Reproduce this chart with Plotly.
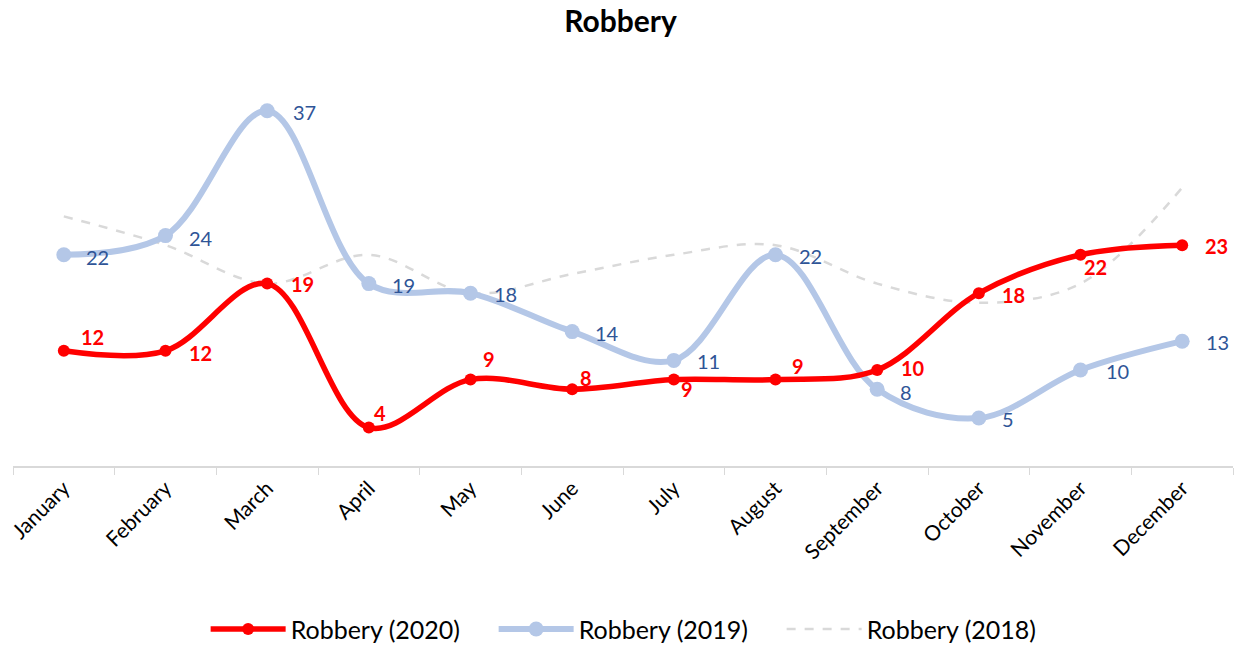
import plotly.graph_objects as go

months = ["January", "February", "March", "April", "May", "June", "July",
          "August", "September", "October", "November", "December"]
robbery_2020 = [12, 12, 19, 4, 9, 8, 9, 9, 10, 18, 22, 23]
robbery_2019 = [22, 24, 37, 19, 18, 14, 11, 22, 8, 5, 10, 13]
robbery_2018 = [26, 23, 19, 22, 18, 20, 22, 23, 19, 17, 19, 29]

# label offsets (px) from each point, for the data labels
off_2020 = [(29, 14), (35, -2), (35, 0), (11, 15), (18, 21), (14, 11),
            (13, -9), (22, 14), (36, 2), (35, -2), (15, -12), (34, -1)]
off_2019 = [(34, -2), (35, -2), (37, -1), (35, -1), (35, -1), (35, -1),
            (35, -1), (35, -1), (29, -3), (29, -1), (37, -1), (35, -1)]

FONT = "Lato"

fig = go.Figure()
fig.add_trace(go.Scatter(
    x=months, y=robbery_2018, name="Robbery (2018)", mode="lines",
    line=dict(color="#D9D9D9", width=2.5, dash="dash", shape="spline"),
))
fig.add_trace(go.Scatter(
    x=months, y=robbery_2019, name="Robbery (2019)", mode="lines+markers",
    line=dict(color="#B4C7E7", width=6, shape="spline"),
    marker=dict(color="#B4C7E7", size=15),
))
fig.add_trace(go.Scatter(
    x=months, y=robbery_2020, name="Robbery (2020)", mode="lines+markers",
    line=dict(color="#FF0000", width=5.5, shape="spline"),
    marker=dict(color="#FF0000", size=12),
))

for m, v, (dx, dy) in zip(months, robbery_2019, off_2019):
    fig.add_annotation(x=m, y=v, text=str(v), showarrow=False, borderpad=0,
                       xshift=dx, yshift=dy,
                       font=dict(color="#2F5597", size=20, family=FONT))
for m, v, (dx, dy) in zip(months, robbery_2020, off_2020):
    fig.add_annotation(x=m, y=v, text="<b>%d</b>" % v, showarrow=False, borderpad=0,
                       xshift=dx, yshift=dy,
                       font=dict(color="#FF0000", size=20, family=FONT))

fig.update_layout(
    width=1241, height=645,
    paper_bgcolor="white", plot_bgcolor="white",
    margin=dict(l=13, r=8, t=82, b=179, autoexpand=False),
    font=dict(family=FONT, color="#000000"),
    title=dict(text="<b>Robbery</b>", x=0.5, xanchor="center", y=0.966, yanchor="middle",
               font=dict(size=30, family=FONT, color="#000000")),
    showlegend=True,
    legend=dict(orientation="h", x=0.512, xanchor="center", y=-0.425, yanchor="middle",
                traceorder="reversed", font=dict(size=25, family=FONT),
                itemwidth=75, entrywidth=198, entrywidthmode="pixels",
                bgcolor="rgba(0,0,0,0)"),
    xaxis=dict(type="category", range=[-0.5, 11.5], showgrid=False, automargin=False,
               showline=True, linecolor="#D9D9D9", linewidth=1.5,
               ticks="outside", tickson="boundaries", ticklen=7, tickcolor="#D9D9D9",
               tickangle=-45, tickfont=dict(size=21, family=FONT, color="#000000")),
    yaxis=dict(range=[0, 40], showgrid=False, showticklabels=False, zeroline=False,
               showline=False, automargin=False),
)
fig.write_html("out.html", config={"displayModeBar": False},
               post_script="document.body.style.margin='0';document.body.style.overflow='hidden';")
